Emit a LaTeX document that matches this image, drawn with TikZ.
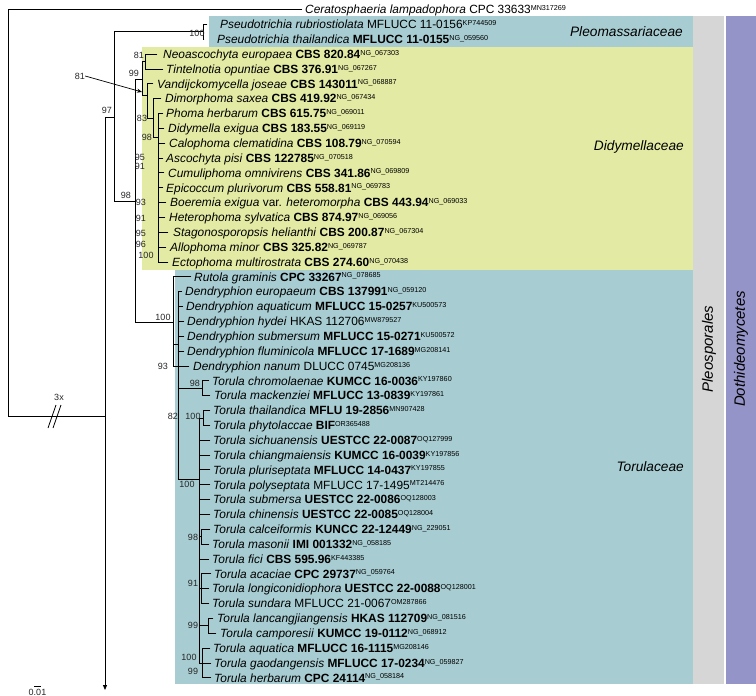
\documentclass[tikz,border=0pt]{standalone}
\usepackage{fontspec}
\setmainfont{Liberation Sans}
\usetikzlibrary{arrows.meta}
\definecolor{famblue}{RGB}{167,204,209}
\definecolor{famyellow}{RGB}{227,234,163}
\definecolor{ordgray}{RGB}{214,214,214}
\definecolor{clspurple}{RGB}{148,148,200}
\newcommand\acc[1]{\raisebox{3.2pt}{\fontsize{7.2}{7.2}\selectfont #1}}
\tikzset{
  br/.style={line width=0.8pt, line cap=rect},
  taxon/.style={anchor=west, inner xsep=#1, inner ysep=0pt, text height=8.6pt, text depth=0pt,
    font=\fontsize{11.9}{12}\selectfont},
  taxon/.default=3pt,
  bs/.style={font=\fontsize{9}{9}\selectfont, text=black!85, inner sep=0pt},
  fam/.style={font=\fontsize{13.7}{14}\selectfont\itshape, anchor=east, inner sep=0pt},
  rank/.style={font=\fontsize{15}{15}\selectfont\itshape, rotate=90, inner sep=0pt},
}
\begin{document}
\begin{tikzpicture}[x=1pt, y=-1pt, declare function={Y(\i)=9.5+14.85*\i;}]
\useasboundingbox (0,0) rectangle (756,696);
% background boxes
\fill[famblue] (209,16) rectangle (693,46.5);
\fill[famyellow] (142,46.5) rectangle (693,269.5);
\fill[famblue] (175,269.5) rectangle (693,684);
\fill[ordgray] (693,16) rectangle (724,684);
\fill[clspurple] (726,16) rectangle (756,684);
\node[fam] (pleo) at (683,32) {Pleomassariaceae};
\node[fam] (didy) at (684,147) {Didymellaceae};
\node[fam] (toru) at (684,467) {Torulaceae};
\node[rank] (ord) at (709,349) {Pleosporales};
\node[rank] (cls) at (741,349) {Dothideomycetes};

% tips
\node[taxon] (t0) at (302,{Y(0)}) {\textit{Ceratosphaeria lampadophora} CPC 33633\acc{MN317269}};
\node[taxon=13pt] (t1) at (207,{Y(1)}) {\textit{Pseudotrichia rubriostiolata} MFLUCC 11-0156\acc{KP744509}};
\node[taxon=13pt] (t2) at (204,{Y(2)}) {\textit{Pseudotrichia thailandica} \textbf{MFLUCC 11-0155}\acc{NG\_059560}};
\node[taxon=6pt] (t3) at (157,{Y(3)}) {\textit{Neoascochyta europaea} \textbf{CBS 820.84}\acc{NG\_067303}};
\node[taxon] (t4) at (163,{Y(4)}) {\textit{Tintelnotia opuntiae} \textbf{CBS 376.91}\acc{NG\_067267}};
\node[taxon=4pt] (t5) at (153,{Y(5)}) {\textit{Vandijckomycella joseae} \textbf{CBS 143011}\acc{NG\_068887}};
\node[taxon=4pt] (t6) at (161,{Y(6)}) {\textit{Dimorphoma saxea} \textbf{CBS 419.92}\acc{NG\_067434}};
\node[taxon] (t7) at (163,{Y(7)}) {\textit{Phoma herbarum} \textbf{CBS 615.75}\acc{NG\_069011}};
\node[taxon=4pt] (t8) at (164,{Y(8)}) {\textit{Didymella exigua} \textbf{CBS 183.55}\acc{NG\_069119}};
\node[taxon=4pt] (t9) at (165,{Y(9)}) {\textit{Calophoma clematidina} \textbf{CBS 108.79}\acc{NG\_070594}};
\node[taxon] (t10) at (163,{Y(10)}) {\textit{Ascochyta pisi} \textbf{CBS 122785}\acc{NG\_070518}};
\node[taxon=4pt] (t11) at (164,{Y(11)}) {\textit{Cumuliphoma omnivirens} \textbf{CBS 341.86}\acc{NG\_069809}};
\node[taxon] (t12) at (163,{Y(12)}) {\textit{Epicoccum plurivorum} \textbf{CBS 558.81}\acc{NG\_069783}};
\node[taxon=4pt] (t13) at (166,{Y(13)}) {\textit{Boeremia exigua} var. \textit{heteromorpha} \textbf{CBS 443.94}\acc{NG\_069033}};
\node[taxon=4pt] (t14) at (165,{Y(14)}) {\textit{Heterophoma sylvatica} \textbf{CBS 874.97}\acc{NG\_069056}};
\node[taxon=5pt] (t15) at (168,{Y(15)}) {\textit{Stagonosporopsis helianthi} \textbf{CBS 200.87}\acc{NG\_067304}};
\node[taxon=4pt] (t16) at (166,{Y(16)}) {\textit{Allophoma minor} \textbf{CBS 325.82}\acc{NG\_069787}};
\node[taxon=4pt] (t17) at (168,{Y(17)}) {\textit{Ectophoma multirostrata} \textbf{CBS 274.60}\acc{NG\_070438}};
\node[taxon] (t18) at (191,{Y(18)}) {\textit{Rutola graminis} \textbf{CPC 33267}\acc{NG\_078685}};
\node[taxon] (t19) at (182,{Y(19)}) {\textit{Dendryphion europaeum} \textbf{CBS 137991}\acc{NG\_059120}};
\node[taxon] (t20) at (183,{Y(20)}) {\textit{Dendryphion aquaticum} \textbf{MFLUCC 15-0257}\acc{KU500573}};
\node[taxon] (t21) at (184,{Y(21)}) {\textit{Dendryphion hydei} HKAS 112706\acc{MW879527}};
\node[taxon] (t22) at (184,{Y(22)}) {\textit{Dendryphion submersum} \textbf{MFLUCC 15-0271}\acc{KU500572}};
\node[taxon] (t23) at (184,{Y(23)}) {\textit{Dendryphion fluminicola} \textbf{MFLUCC 17-1689}\acc{MG208141}};
\node[taxon=4pt] (t24) at (189,{Y(24)}) {\textit{Dendryphion nanum} DLUCC 0745\acc{MG208136}};
\node[taxon] (t25) at (209,{Y(25)}) {\textit{Torula chromolaenae} \textbf{KUMCC 16-0036}\acc{KY197860}};
\node[taxon=4pt] (t26) at (210,{Y(26)}) {\textit{Torula mackenziei} \textbf{MFLUCC 13-0839}\acc{KY197861}};
\node[taxon] (t27) at (210,{Y(27)}) {\textit{Torula thailandica} \textbf{MFLU 19-2856}\acc{MN907428}};
\node[taxon] (t28) at (210,{Y(28)}) {\textit{Torula phytolaccae} \textbf{BIF}\acc{OR365488}};
\node[taxon] (t29) at (210,{Y(29)}) {\textit{Torula sichuanensis} \textbf{UESTCC 22-0087}\acc{OQ127999}};
\node[taxon] (t30) at (210,{Y(30)}) {\textit{Torula chiangmaiensis} \textbf{KUMCC 16-0039}\acc{KY197856}};
\node[taxon] (t31) at (210,{Y(31)}) {\textit{Torula pluriseptata} \textbf{MFLUCC 14-0437}\acc{KY197855}};
\node[taxon] (t32) at (210,{Y(32)}) {\textit{Torula polyseptata} MFLUCC 17-1495\acc{MT214476}};
\node[taxon] (t33) at (210,{Y(33)}) {\textit{Torula submersa} \textbf{UESTCC 22-0086}\acc{OQ128003}};
\node[taxon] (t34) at (210,{Y(34)}) {\textit{Torula chinensis} \textbf{UESTCC 22-0085}\acc{OQ128004}};
\node[taxon] (t35) at (210,{Y(35)}) {\textit{Torula calceiformis} \textbf{KUNCC 22-12449}\acc{NG\_229051}};
\node[taxon] (t36) at (209,{Y(36)}) {\textit{Torula masonii} \textbf{IMI 001332}\acc{NG\_058185}};
\node[taxon] (t37) at (209,{Y(37)}) {\textit{Torula fici} \textbf{CBS 595.96}\acc{KF443385}};
\node[taxon] (t38) at (211,{Y(38)}) {\textit{Torula acaciae} \textbf{CPC 29737}\acc{NG\_059764}};
\node[taxon] (t39) at (209,{Y(39)}) {\textit{Torula longiconidiophora} \textbf{UESTCC 22-0088}\acc{OQ128001}};
\node[taxon] (t40) at (209,{Y(40)}) {\textit{Torula sundara} MFLUCC 21-0067\acc{OM287866}};
\node[taxon=4pt] (t41) at (213,{Y(41)}) {\textit{Torula lancangjiangensis} \textbf{HKAS 112709}\acc{NG\_081516}};
\node[taxon=4pt] (t42) at (216,{Y(42)}) {\textit{Torula camporesii} \textbf{KUMCC 19-0112}\acc{NG\_068912}};
\node[taxon] (t43) at (210,{Y(43)}) {\textit{Torula aquatica} \textbf{MFLUCC 16-1115}\acc{MG208146}};
\node[taxon] (t44) at (211,{Y(44)}) {\textit{Torula gaodangensis} \textbf{MFLUCC 17-0234}\acc{NG\_059827}};
\node[taxon] (t45) at (211,{Y(45)}) {\textit{Torula herbarum} \textbf{CPC 24114}\acc{NG\_058184}};

% internal nodes
\coordinate (r0) at (8,213);
\coordinate (ing) at (105,416);
\coordinate (arr) at (105,690);
\coordinate (n97) at (114,117);
\coordinate (ps) at (203,31.8);
\coordinate (n98) at (135,201);
\coordinate (dA) at (142,79);
\coordinate (nt) at (145,61.5);
\coordinate (dB) at (147,95);
\coordinate (dC) at (153,118);
\coordinate (dD) at (158,137);
\coordinate (T0) at (173,322);
\coordinate (T2) at (178,344);
\coordinate (TA) at (202,388.2);
\coordinate (TC) at (199,479);
\coordinate (TP) at (203,417.9);
\coordinate (TD1) at (201,536.7);
\coordinate (TD2) at (201,588.6);
\coordinate (TE) at (208,625.8);
\coordinate (TF) at (202,663);

\begin{scope}[br]
\draw (r0) |- (t0.west);
\draw (r0) |- (ing);
\draw[-{Triangle[length=5pt,width=4pt]}] (ing) -- (arr);
\draw (ing) |- (n97);
\draw (n97) |- (ps);
\draw (ps) |- (t1.west);
\draw (ps) |- (t2.west);
\draw (n97) |- (n98);
\draw (n98) |- (dA);
\draw (n98) |- (T0);
\draw (dA) |- (nt);
\draw (nt) |- (t3.west);
\draw (nt) |- (t4.west);
\draw (dA) |- (dB);
\draw (dB) |- (t5.west);
\draw (dB) |- (dC);
\draw (dC) |- (t6.west);
\draw (dC) |- (dD);
\foreach \i in {7,...,17} {\draw (dD) |- (t\i.west);}
\draw (T0) |- (t18.west);
\draw (T0) |- (t24.west);
\draw (T0) |- (T2);
\foreach \i in {19,...,23} {\draw (T2) |- (t\i.west);}
\draw (T2) |- (TA);
\draw (TA) |- (t25.west);
\draw (TA) |- (t26.west);
\draw (T2) |- (TC);
\draw (TC) |- (TP);
\draw (TP) |- (t27.west);
\draw (TP) |- (t28.west);
\foreach \i in {29,...,34} {\draw (TC) |- (t\i.west);}
\draw (TC) |- (TD1);
\draw (TD1) |- (t35.west);
\draw (TD1) |- (t36.west);
\draw (TC) |- (t37.west);
\draw (TC) |- (TD2);
\foreach \i in {38,...,40} {\draw (TD2) |- (t\i.west);}
\draw (TC) |- (TE);
\draw (TE) |- (t41.west);
\draw (TE) |- (t42.west);
\draw (TC) |- (TF);
\foreach \i in {43,...,45} {\draw (TF) |- (t\i.west);}
\end{scope}

% break marks and outgroup label
\coordinate (bk1a) at (48,428); \coordinate (bk1b) at (56,405);
\coordinate (bk2a) at (53,428); \coordinate (bk2b) at (61,405);
\draw[line width=0.8pt] (bk1a) -- (bk1b);
\draw[line width=0.8pt] (bk2a) -- (bk2b);
\node[bs] (lx) at (59,397) {3x};

% arrow pointer label
\node[bs] (l81a) at (80,76) {81};
\draw[line width=0.7pt, -{Stealth[length=5pt,width=4pt]}] (l81a.east) -- (142,92);

% support values
\node[bs] at (197,33) {100};
\node[bs] at (139,55) {81};
\node[bs] at (134,73) {99};
\node[bs] at (107,110) {97};
\node[bs] at (142,118) {83};
\node[bs] at (147,137) {98};
\node[bs] at (140,157) {95};
\node[bs] at (140,166) {91};
\node[bs] at (141,202) {93};
\node[bs] at (141,218) {91};
\node[bs] at (141,233) {95};
\node[bs] at (141,244) {96};
\node[bs] at (146,255.5) {100};
\node[bs] at (126,195) {98};
\node[bs] at (163,317) {100};
\node[bs] at (163,366) {93};
\node[bs] at (195,383) {98};
\node[bs] at (173,416) {82};
\node[bs] at (193,416) {100};
\node[bs] at (187,484) {100};
\node[bs] at (193,537) {98};
\node[bs] at (193,583) {91};
\node[bs] at (193,625) {99};
\node[bs] at (189,657) {100};
\node[bs] at (193,671) {99};

% scale bar
\coordinate (sb1) at (34,686); \coordinate (sb2) at (41,686);
\draw[line width=0.8pt] (sb1) -- (sb2);
\node[bs] (sbl) at (37.5,692) {0.01};
\end{tikzpicture}
\end{document}
